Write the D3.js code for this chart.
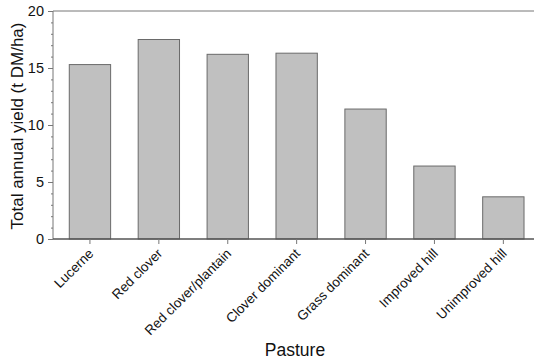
<!DOCTYPE html>
<html><head><meta charset="utf-8">
<script src="https://cdn.jsdelivr.net/npm/d3@7"></script>
<style>body{margin:0;background:#fff}svg{display:block;font-family:"Liberation Sans",Arial,sans-serif}</style>
</head><body><svg id="c" width="534" height="363"></svg>
<script>
const categories = ["Lucerne","Red clover","Red clover/plantain","Clover dominant","Grass dominant","Improved hill","Unimproved hill"];
const yieldValues = [15.3, 17.5, 16.2, 16.3, 11.4, 6.4, 3.7];
const yTicks = [0, 5, 10, 15, 20];
const yMinorTicks = d3.range(0, 21, 1);

const svg = d3.select("#c");
const mLeft = 53, mTop = 11, mBottom = 239, mRight = 534;
const x = d3.scaleBand().domain(categories).range([55.5, 537.8]).paddingInner(0.4).paddingOuter(0.2);
const y = d3.scaleLinear().domain([0, 20]).range([mBottom, mTop]);
const axisCol = "#777";

// top frame line
svg.append("line").attr("x1", mLeft).attr("x2", mRight).attr("y1", mTop).attr("y2", mTop)
  .attr("stroke", axisCol).attr("stroke-width", 1);

// bars
svg.append("g").selectAll("rect").data(categories).join("rect")
  .attr("x", d => x(d)).attr("width", x.bandwidth())
  .attr("y", (d, i) => y(yieldValues[i])).attr("height", (d, i) => mBottom - y(yieldValues[i]))
  .attr("fill", "#c0c0c0").attr("stroke", "#6a6a6a").attr("stroke-width", 1);

// y minor ticks
const gy = svg.append("g").attr("transform", `translate(${mLeft},0)`);
gy.call(d3.axisLeft(y).tickValues(yMinorTicks).tickSize(2).tickFormat(""));
gy.call(g => g.selectAll("line").attr("stroke", axisCol));
gy.select(".domain").remove();
const gy2 = svg.append("g").attr("transform", `translate(${mLeft},0)`)
  .call(d3.axisLeft(y).tickValues(yTicks).tickSize(5).tickPadding(4).tickFormat(d3.format("d")));
gy2.select(".domain").attr("stroke", axisCol).attr("d", `M0,${mTop}V${mBottom}`);
gy2.selectAll("line").attr("stroke", axisCol);
gy2.selectAll("text").attr("font-size", 14.5).attr("fill", "#111").attr("font-family", "Liberation Sans, Arial, sans-serif");

// x axis
const gx = svg.append("g").attr("transform", `translate(0,${mBottom})`)
  .call(d3.axisBottom(x).tickSize(5).tickSizeOuter(0));
gx.select(".domain").attr("stroke", "#555").attr("stroke-width", 1.5).attr("d", `M${mLeft},0H${mRight}`);
gx.selectAll("line").attr("stroke", axisCol);
gx.selectAll("text").attr("font-size", 13.5).attr("fill", "#111")
  .attr("font-family", "Liberation Sans, Arial, sans-serif")
  .attr("text-anchor", "end").attr("dy", "0.35em")
  .attr("transform", "translate(1,12) rotate(-45)").attr("x", 0).attr("y", 0);

// axis titles
svg.append("text").attr("transform", `translate(23,${(mTop + mBottom) / 2 + 1}) rotate(-90)`)
  .attr("text-anchor", "middle").attr("font-size", 17).attr("fill", "#111")
  .text("Total annual yield (t DM/ha)");
svg.append("text").attr("x", 295).attr("y", 356).attr("text-anchor", "middle")
  .attr("font-size", 17.5).attr("fill", "#111").text("Pasture");
</script></body></html>
